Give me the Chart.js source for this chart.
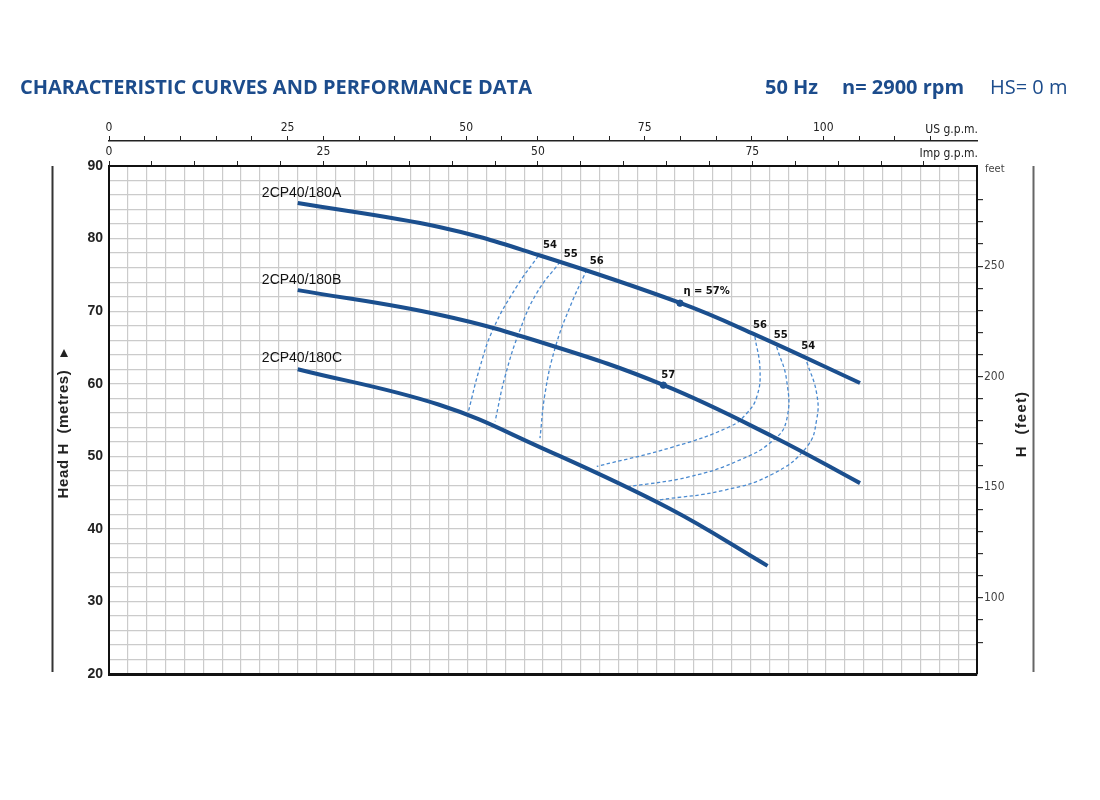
<!DOCTYPE html>
<html><head><meta charset="utf-8">
<script src="https://cdn.jsdelivr.net/npm/chart.js@4.4.0/dist/chart.umd.min.js"></script>
<style>html,body{margin:0;padding:0;background:#fff;}#wrap{width:1100px;height:800px;}</style>
</head><body><div id="wrap"><canvas id="c" width="1100" height="800"></canvas></div>
<script>
// ---- data (flow Q in l/min, head H in metres) ----
const qA = [100, 175, 228, 303, 343, 398];
const hA = [84.9, 81.6, 77.7, 71.1, 66.7, 60.1];
const qB = [100, 175, 234, 294, 352, 398];
const hB = [72.9, 69.5, 65.3, 59.8, 52.7, 46.3];
const qC = [100, 175, 228, 297, 349];
const hC = [62.0, 57.1, 51.3, 42.8, 34.9];

// iso-efficiency branches
const q54L = [227.5, 216.1, 203.7, 196.6, 190.4];
const h54L = [77.6, 73.4, 67.6, 62.3, 56.1];
const q55L = [239.0, 226.7, 217.8, 209.9, 204.6];
const h55L = [76.8, 72.5, 67.4, 61.0, 54.8];
const q56L = [253.2, 244.3, 236.4, 231.1, 228.4];
const h56L = [75.7, 70.6, 64.9, 58.7, 52.5];
const q56R = [342.3, 345.0, 343.3, 337.9, 329.1, 299.1, 258.5];
const h56R = [66.5, 61.9, 58.2, 55.9, 54.1, 51.3, 48.6];
const q55R = [353.8, 359.1, 359.1, 352.0, 334.4, 307.9, 275.2];
const h55R = [65.1, 60.5, 55.0, 52.2, 49.5, 47.2, 45.8];
const q54R = [369.8, 375.0, 375.0, 369.8, 352.0, 325.6, 292.0];
const h54R = [63.0, 58.7, 55.0, 51.3, 47.6, 45.3, 44.0];

// best efficiency markers
const qBest = [302.6, 293.8];
const hBest = [71.1, 59.8];

const curveNames = ['2CP40/180A', '2CP40/180B', '2CP40/180C'];
const curveNameQ = [81, 81, 81];
const curveNameH = [86.3, 74.3, 63.5];

const effTexts = ['54', '55', '56', '\u03b7 = 57%', '56', '55', '54', '57'];
const effQ = [233.7, 244.7, 258.5, 316.7, 345.0, 356.0, 370.6, 296.4];
const effH = [79.1, 77.8, 76.8, 72.7, 68.0, 66.7, 65.1, 61.2];

const yLabels = [20, 30, 40, 50, 60, 70, 80, 90];
const usLabels = [0, 25, 50, 75, 100];
const impLabels = [0, 25, 50, 75];
const ftLabels = [100, 150, 200, 250];

const Q_MIN = 0, Q_MAX = 460, H_MIN = 20, H_MAX = 90;
const L_PER_USGAL = 3.785411784, L_PER_IMPGAL = 4.54609, FT_PER_M = 3.28084;

const pts = (q, h) => q.map((v, i) => ({x: v, y: h[i]}));
const MAIN = '#1b4f8e', DASH = '#4a8ad0';

function mainDs(q, h) {
  return {data: pts(q, h), xAxisID: 'x', yAxisID: 'y', borderColor: MAIN, borderWidth: 4, pointRadius: 0,
    tension: 0.4, fill: false, order: 1};
}
function dashDs(q, h) {
  return {data: pts(q, h), xAxisID: 'x', yAxisID: 'y', borderColor: DASH, borderWidth: 1.3, borderDash: [3.5, 2.5],
    pointRadius: 0, tension: 0.45, fill: false, order: 3};
}
const keepMultiples = step => s => {
  s.ticks = s.ticks.filter(t => Math.abs(t.value / step - Math.round(t.value / step)) < 1e-6);
};
const intLabel = list => v => (Math.abs(v - Math.round(v)) < 1e-6 && list.includes(Math.round(v))) ? String(Math.round(v)) : '';

const textPlugin = {
  id: 'texts',
  afterDraw(chart) {
    const ctx = chart.ctx, xs = chart.scales.x, ys = chart.scales.y;
    ctx.save();
    // header
    ctx.fillStyle = '#1c4c8c';
    ctx.textBaseline = 'middle';
    ctx.textAlign = 'left';
    ctx.font = 'bold 20px "Open Sans"';
    ctx.fillText('CHARACTERISTIC CURVES AND PERFORMANCE DATA', 20, 88);
    ctx.fillText('50 Hz', 765, 88);
    ctx.fillText('n= 2900 rpm', 842, 88);
    ctx.font = '20px "Open Sans"';
    ctx.fillText('HS= 0 m', 990, 88);

    // unit labels of the top axes / right axis
    ctx.fillStyle = '#222';
    ctx.font = '12px "Liberation Sans Narrow", "DejaVu Sans Condensed"';
    ctx.textAlign = 'right';
    ctx.textBaseline = 'bottom';
    ctx.fillText('US g.p.m.', chart.chartArea.right + 1, chart.scales.us.bottom - 5);
    ctx.fillText('Imp g.p.m.', chart.chartArea.right + 1, chart.scales.imp.bottom - 6);
    ctx.textAlign = 'left';
    ctx.textBaseline = 'middle';
    ctx.fillStyle = '#444';
    ctx.font = '11px "Liberation Sans Narrow", "DejaVu Sans Condensed"';
    ctx.fillText('feet', chart.chartArea.right + 8, chart.chartArea.top + 3);

    // side axis titles with rules
    const top = chart.chartArea.top, bot = chart.chartArea.bottom;
    ctx.strokeStyle = '#333';
    ctx.lineWidth = 2;
    ctx.beginPath(); ctx.moveTo(52.5, top); ctx.lineTo(52.5, bot - 2); ctx.stroke();
    ctx.strokeStyle = '#666';
    ctx.beginPath(); ctx.moveTo(1033.5, top); ctx.lineTo(1033.5, bot - 2); ctx.stroke();

    ctx.fillStyle = '#222';
    ctx.font = 'bold 15px "Liberation Sans"';
    ctx.save();
    ctx.translate(64, 434);
    ctx.rotate(-Math.PI / 2);
    ctx.textAlign = 'center';
    ctx.textBaseline = 'middle';
    try { ctx.letterSpacing = '0.6px'; } catch (e) {}
    ctx.fillText('Head H  (metres)', 0, 0);
    ctx.restore();
    // arrow
    ctx.beginPath();
    ctx.moveTo(64, 349); ctx.lineTo(60, 357); ctx.lineTo(68, 357); ctx.closePath();
    ctx.fill();

    ctx.save();
    ctx.translate(1022, 424);
    ctx.rotate(-Math.PI / 2);
    ctx.textAlign = 'center';
    ctx.textBaseline = 'middle';
    try { ctx.letterSpacing = '1.2px'; } catch (e) {}
    ctx.fillText('H  (feet)', 0, 0);
    ctx.restore();

    // curve names
    ctx.fillStyle = '#111';
    ctx.font = '14px "Liberation Sans"';
    ctx.textAlign = 'left';
    ctx.textBaseline = 'middle';
    curveNames.forEach((t, i) => {
      ctx.fillText(t, xs.getPixelForValue(curveNameQ[i]), ys.getPixelForValue(curveNameH[i]));
    });

    // efficiency labels
    ctx.font = 'bold 10px "DejaVu Sans"';
    ctx.textAlign = 'center';
    effTexts.forEach((t, i) => {
      ctx.fillText(t, xs.getPixelForValue(effQ[i]), ys.getPixelForValue(effH[i]));
    });
    ctx.restore();
  }
};

const gridCol = '#cbcbcb';
const smallFont = {family: '"Liberation Sans Narrow", "DejaVu Sans Condensed"', size: 12};
new Chart(document.getElementById('c'), {
  type: 'line',
  data: {
    datasets: [
      mainDs(qA, hA), mainDs(qB, hB), mainDs(qC, hC),
      {data: pts(qBest, hBest), xAxisID: 'x', yAxisID: 'y', showLine: false, pointRadius: 3.2,
        pointBackgroundColor: MAIN, pointBorderColor: MAIN, order: 0},
      dashDs(q54L, h54L), dashDs(q55L, h55L), dashDs(q56L, h56L),
      dashDs(q56R, h56R), dashDs(q55R, h55R), dashDs(q54R, h54R)
    ]
  },
  options: {
    responsive: false,
    animation: false,
    devicePixelRatio: 1,
    layout: {padding: 0},
    plugins: {legend: {display: false}, tooltip: {enabled: false}, title: {display: false}},
    scales: {
      x: {
        type: 'linear', position: 'bottom', min: Q_MIN, max: Q_MAX,
        afterFit: s => { s.height = 126; },
        grid: {color: gridCol, lineWidth: 1.2, drawTicks: false},
        border: {display: true, color: '#111', width: 3},
        ticks: {stepSize: 10, display: false}
      },
      y: {
        type: 'linear', position: 'left', min: H_MIN, max: H_MAX,
        afterFit: s => { s.width = 109; },
        grid: {color: gridCol, lineWidth: 1.2, drawTicks: false},
        border: {display: true, color: '#111', width: 2},
        ticks: {stepSize: 2, autoSkip: false, padding: 6, color: '#222',
          font: {family: '"Liberation Sans"', size: 14, weight: 'bold'},
          callback: v => yLabels.includes(v) ? String(v) : ''}
      },
      imp: {
        type: 'linear', position: 'top', min: 0, max: Q_MAX / L_PER_IMPGAL,
        afterBuildTicks: keepMultiples(5),
        afterFit: s => { s.height = 25; },
        grid: {drawOnChartArea: false, drawTicks: true, tickLength: 5, color: '#222', lineWidth: 1},
        border: {display: true, color: '#111', width: 2},
        ticks: {stepSize: 5, autoSkip: false, maxRotation: 0, padding: 2, color: '#222',
          font: smallFont, callback: intLabel(impLabels)}
      },
      us: {
        type: 'linear', position: 'top', min: 0, max: Q_MAX / L_PER_USGAL,
        afterBuildTicks: keepMultiples(5),
        afterFit: s => { s.height = 141; },
        grid: {drawOnChartArea: false, drawTicks: true, tickLength: 5, color: '#222', lineWidth: 1},
        border: {display: true, color: '#222', width: 1.5},
        ticks: {stepSize: 5, autoSkip: false, maxRotation: 0, padding: 1, color: '#222',
          font: smallFont, callback: intLabel(usLabels)}
      },
      ft: {
        type: 'linear', position: 'right', min: H_MIN * FT_PER_M, max: H_MAX * FT_PER_M,
        afterBuildTicks: keepMultiples(10),
        afterFit: s => { s.width = 123; },
        grid: {drawOnChartArea: false, drawTicks: true, tickLength: 6, color: '#333', lineWidth: 1.2},
        border: {display: true, color: '#111', width: 2},
        ticks: {stepSize: 10, autoSkip: false, padding: 1, color: '#444',
          font: smallFont, callback: intLabel(ftLabels)}
      }
    }
  },
  plugins: [textPlugin]
});
</script></body></html>
